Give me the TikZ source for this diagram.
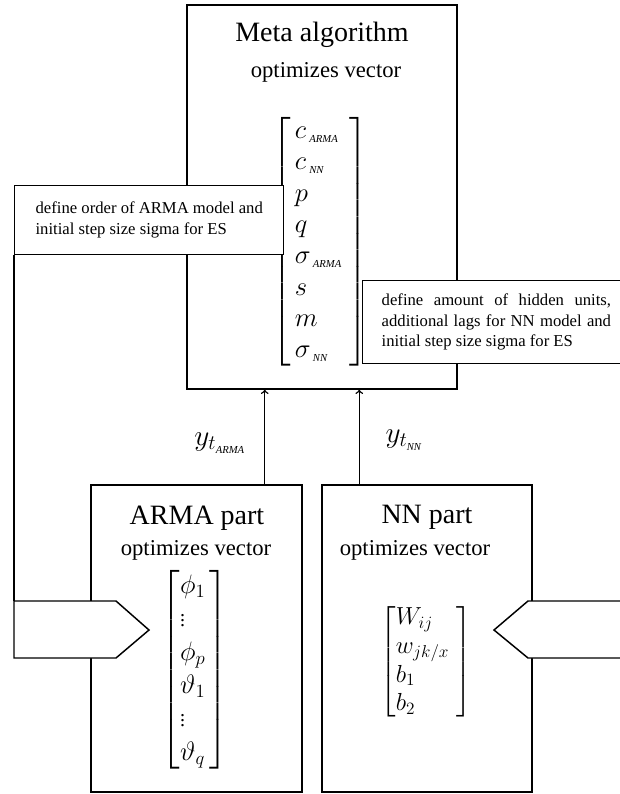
\RequirePackage{fix-cm}
\documentclass[tikz,border=0pt]{standalone}
\usepackage{amsmath}
\usepackage{fontspec}
\setmainfont{Liberation Serif}
\usetikzlibrary{calc,fit}

\newcommand{\smallsub}[1]{\mbox{\fontsize{8}{8}\selectfont\itshape #1}}

\begin{document}
\begin{tikzpicture}[x=0.75pt, y=-0.75pt, line width=1.1pt,
  box/.style={draw, rectangle, inner sep=0pt},
  note/.style={draw, fill=white, rectangle, inner ysep=0pt, font=\fontsize{12.5}{15.5}\selectfont},
  title/.style={font=\fontsize{21}{25}\selectfont, inner sep=0pt},
  subtitle/.style={font=\fontsize{17}{20}\selectfont, inner sep=0pt},
  vec/.style={font=\fontsize{20}{23.5}\selectfont, inner sep=0pt}]

\useasboundingbox (0,0) rectangle (619,794);

% Meta algorithm block
\node[box, fit={(187,5) (457,389)}] (meta) {};
\node[title] (metatitle) at (322,35) {Meta algorithm};
\node[subtitle] (metasub) at (326,72) {optimizes vector};
\node[vec] (metavec) at (320,242) {$\left[\begin{array}{@{\,}l@{\;}}
  c_{\,\smallsub{ARMA}}\\ c_{\,\smallsub{NN}}\\ p\\ q\\
  \sigma_{\,\smallsub{ARMA}}\\ s\\ m\\ \sigma_{\,\smallsub{NN}}
  \end{array}\right]$};

% Annotation boxes
\node[note, align=left, minimum width=201.75pt, minimum height=51.75pt, anchor=north west]
  (defarma) at (14,185) {define order of ARMA model and\\initial step size sigma for ES};
\node[note, align=justify, text width=172pt, inner xsep=14.25pt, minimum height=62.25pt, anchor=north west]
  (defnn) at (362,280) {define amount of hidden units,\linebreak additional lags for NN model and\linebreak initial step size sigma for ES};

% ARMA part
\node[box, fit={(91,485) (302,792)}] (arma) {};
\node[title] (armatitle) at (197,518) {ARMA part};
\node[subtitle] (armasub) at (196,550) {optimizes vector};
\node[vec, font=\fontsize{20}{25}\selectfont] (armavec) at (195,670) {$\left[\begin{array}{@{}l@{\,}}
  \phi_1\\ \mbox{\fontsize{15}{15}\selectfont$\vdots$}\\ \phi_p\\ \vartheta_1\\
  \mbox{\fontsize{15}{15}\selectfont$\vdots$}\\ \vartheta_q
  \end{array}\right]$};

% NN part
\node[box, fit={(322,485) (532,792)}] (nn) {};
\node[title] (nntitle) at (427,517) {NN part};
\node[subtitle] (nnsub) at (415,550) {optimizes vector};
\node[vec, font=\fontsize{18.5}{21.5}\selectfont] (nnvec) at (426,662) {$\left[\begin{array}{@{}l@{\;}}
  W_{ij}\\ w_{jk/x}\\ b_1\\ b_2
  \end{array}\right]$};

% Outputs to meta block
\coordinate (armaout) at ($(arma.north east)+(-38,0)$);
\coordinate (nnout) at ($(nn.north west)+(38,0)$);
\draw[->] (armaout) -- (armaout |- meta.south);
\draw[->] (nnout) -- (nnout |- meta.south);
\node[vec, font=\fontsize{22}{26}\selectfont] (ytarma) at (220,443) {$y_{t_{\smallsub{ARMA}}}$};
\node[vec, font=\fontsize{22}{26}\selectfont] (ytnn) at (404,440) {$y_{t_{\smallsub{NN}}}$};

% Inputs into the parts
\coordinate (armain) at (14,601);
\draw (defarma.south west) -- (armain);
\draw[fill=white] (armain) -- (116,601) -- (149,630) -- (116,658) -- (14,658) -- cycle;
\draw[fill=white] (640,601) -- (528,601) -- (494,630) -- (528,658) -- (640,658);

\end{tikzpicture}
\end{document}
